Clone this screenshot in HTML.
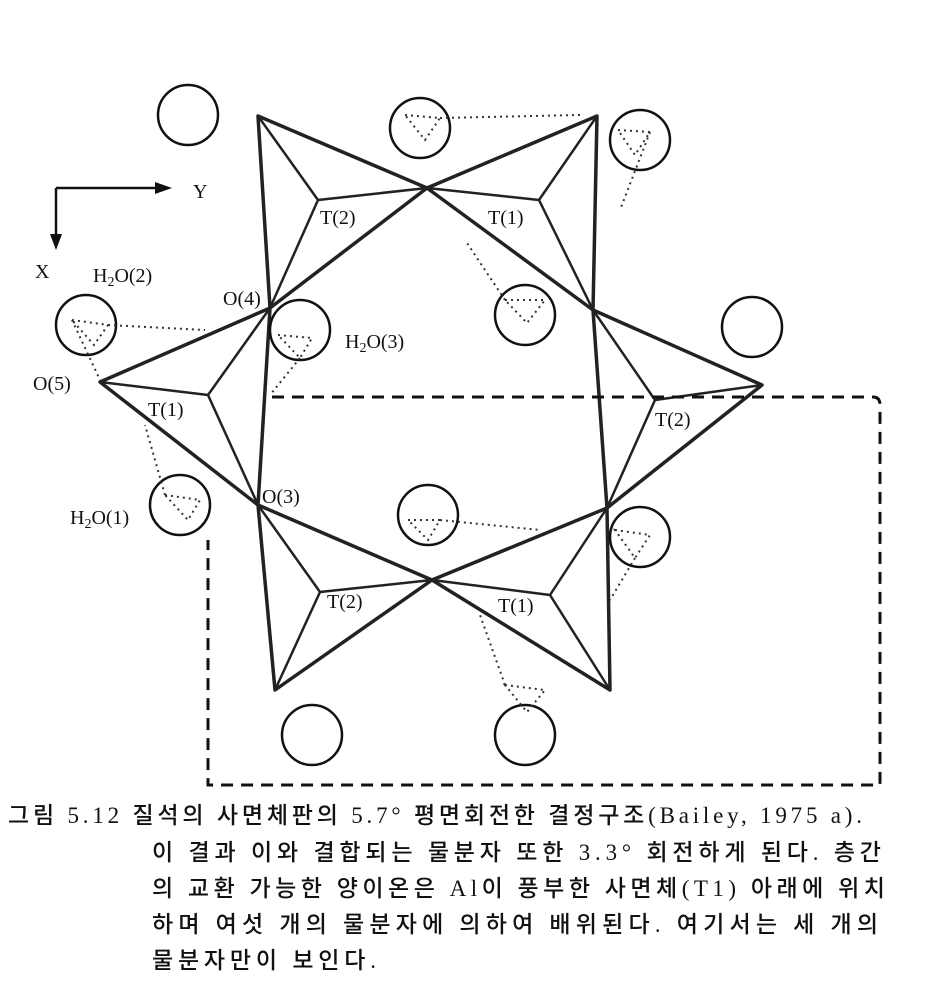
<!DOCTYPE html>
<html><head><meta charset="utf-8"><style>
body{margin:0;background:#fff;width:925px;height:1005px;overflow:hidden;position:relative;font-family:"Liberation Serif","Noto Serif CJK SC",serif}
.cap{position:absolute;font-family:"Liberation Serif","Noto Sans CJK KR","NanumGothic",sans-serif;font-size:23px;color:#111;white-space:nowrap;font-weight:500}
</style></head><body>
<svg width="925" height="790" style="position:absolute;left:0;top:0" font-family="Liberation Serif, serif" font-size="20" fill="#111">
<g stroke="#222" stroke-width="3.5" fill="none" stroke-linejoin="round">
<polygon points="258,116 427,188 270,308"/>
<polygon points="597,116 427,188 593,310"/>
<polygon points="593,310 762,385 607,508"/>
<polygon points="607,508 432,580 610,690"/>
<polygon points="432,580 258,505 275,690"/>
<polygon points="270,308 100,382 258,505"/>
</g>
<g stroke="#222" stroke-width="2.5" fill="none">
<path d="M258,116L318,200M427,188L318,200M270,308L318,200"/>
<path d="M597,116L539,200M427,188L539,200M593,310L539,200"/>
<path d="M593,310L655,400M762,385L655,400M607,508L655,400"/>
<path d="M607,508L550,595M432,580L550,595M610,690L550,595"/>
<path d="M432,580L320,592M258,505L320,592M275,690L320,592"/>
<path d="M270,308L208,395M100,382L208,395M258,505L208,395"/>
</g>
<g stroke="#111" stroke-width="2.5" fill="none">
<circle cx="188" cy="115" r="30"/><circle cx="420" cy="128" r="30"/><circle cx="640" cy="140" r="30"/>
<circle cx="86" cy="325" r="30"/><circle cx="300" cy="330" r="30"/><circle cx="525" cy="315" r="30"/><circle cx="752" cy="327" r="30"/>
<circle cx="180" cy="505" r="30"/><circle cx="428" cy="515" r="30"/><circle cx="640" cy="537" r="30"/>
<circle cx="312" cy="735" r="30"/><circle cx="525" cy="735" r="30"/>
</g>
<g stroke="#333" stroke-width="2" fill="none" stroke-dasharray="2,4">
<polygon points="405,115 440,118 425,140"/><line x1="440" y1="118" x2="580" y2="115"/>
<polygon points="618,130 650,132 635,155"/><line x1="650" y1="132" x2="620" y2="210"/>
<polygon points="72,320 108,325 94,345"/><line x1="108" y1="325" x2="205" y2="330"/><line x1="72" y1="320" x2="100" y2="380"/>
<polygon points="278,335 312,338 300,358"/><line x1="300" y1="358" x2="270" y2="395"/>
<polygon points="505,300 545,300 527,323"/><line x1="505" y1="300" x2="465" y2="240"/>
<polygon points="165,495 200,500 188,520"/><line x1="165" y1="495" x2="145" y2="425"/>
<polygon points="408,520 440,520 428,540"/><line x1="440" y1="520" x2="540" y2="530"/>
<polygon points="615,530 650,535 635,558"/><line x1="635" y1="558" x2="610" y2="600"/>
<polygon points="505,685 545,690 527,712"/><line x1="505" y1="685" x2="480" y2="615"/>
</g>
<path d="M272,397H873Q880,397 880,405V785H208V540" stroke="#111" stroke-width="3" fill="none" stroke-dasharray="12,8"/>
<g stroke="#111" stroke-width="2.5"><line x1="56" y1="188" x2="160" y2="188"/><line x1="56" y1="188" x2="56" y2="238"/></g>
<polygon points="172,188 155,182 155,194" fill="#111"/><polygon points="56,250 50,234 62,234" fill="#111"/>
<text x="193" y="198">Y</text><text x="35" y="278">X</text>
<text x="93" y="282">H<tspan font-size="14" dy="4">2</tspan><tspan dy="-4">O(2)</tspan></text>
<text x="223" y="305">O(4)</text>
<text x="345" y="348">H<tspan font-size="14" dy="4">2</tspan><tspan dy="-4">O(3)</tspan></text>
<text x="33" y="390">O(5)</text>
<text x="148" y="416">T(1)</text>
<text x="320" y="224">T(2)</text><text x="488" y="224">T(1)</text>
<text x="655" y="426">T(2)</text>
<text x="262" y="503">O(3)</text>
<text x="70" y="524">H<tspan font-size="14" dy="4">2</tspan><tspan dy="-4">O(1)</tspan></text>
<text x="327" y="608">T(2)</text><text x="498" y="612">T(1)</text>
</svg>
<div class="cap" style="left:8px;top:796px;letter-spacing:3.8px">그림 5.12 질석의 사면체판의 5.7° 평면회전한 결정구조(Bailey, 1975 a).</div>
<div class="cap" style="left:152px;top:833px;letter-spacing:4.8px">이 결과 이와 결합되는 물분자 또한 3.3° 회전하게 된다. 층간</div>
<div class="cap" style="left:152px;top:869px;letter-spacing:4.5px">의 교환 가능한 양이온은 Al이 풍부한 사면체(T1) 아래에 위치</div>
<div class="cap" style="left:152px;top:905px;letter-spacing:5.2px">하며 여섯 개의 물분자에 의하여 배위된다. 여기서는 세 개의</div>
<div class="cap" style="left:152px;top:941px;letter-spacing:4.8px">물분자만이 보인다.</div>
</body></html>
